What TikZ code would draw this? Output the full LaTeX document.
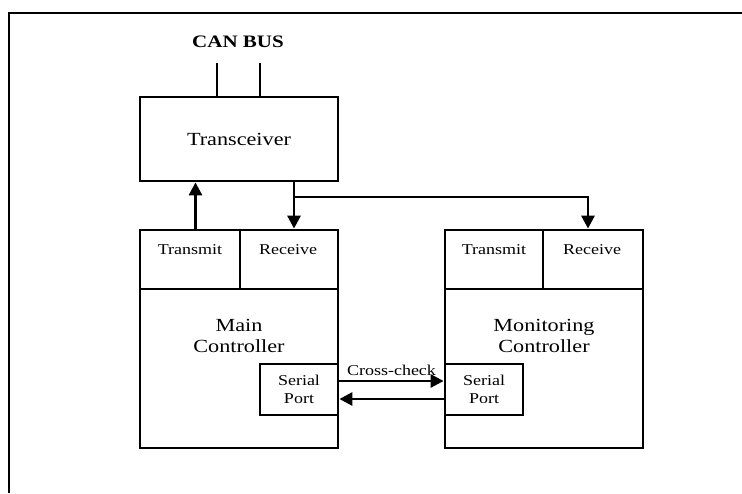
\documentclass[tikz,border=0pt]{standalone}
\usepackage{fontspec}
\setmainfont{Liberation Serif}[FakeStretch=1.2]
\usetikzlibrary{arrows.meta}
\begin{document}
\begin{tikzpicture}[x=1pt,y=-1pt,
  box/.style={draw=black,line width=2.8pt,rectangle,inner sep=0pt,anchor=center},
  big/.style={font=\fontsize{18.5}{21}\selectfont,align=center},
  small/.style={font=\fontsize{15}{18}\selectfont,align=center},
  arr/.style={line width=2.8pt,-{Triangle[length=13pt,width=13pt]}},
  wire/.style={line width=2.8pt}]
\fill[white] (0,0) rectangle (742,493);
\useasboundingbox (0,0) rectangle (742,493);
\draw[line width=2.8pt] (742,13) -- (9,13) -- (9,493);
% CAN bus
\node[font=\fontsize{17.5}{20}\selectfont\bfseries] (can) at (238,42) {CAN BUS};
\node[box,big,minimum width=198pt,minimum height=84pt] (trx) at (239,139) {Transceiver};
\coordinate (canA) at (217,63);
\coordinate (canB) at (260,63);
\draw[wire] (canA) -- (canA |- trx.north);
\draw[wire] (canB) -- (canB |- trx.north);
% main controller
\node[box,minimum width=100pt,minimum height=59pt] (mainTx) at (190,259.5) {};
\node[small] at (190,250) {Transmit};
\node[box,minimum width=98pt,minimum height=59pt] (mainRx) at (289,259.5) {};
\node[small] at (288,250) {Receive};
\node[box,minimum width=198pt,minimum height=159pt] (mainBody) at (239,368.5) {};
\node[big] (mainLbl) at (239,336) {Main\\Controller};
\node[box,small,fill=white,minimum width=78pt,minimum height=51pt] (mainSP) at (299,389.5) {Serial\\Port};
% monitoring controller
\node[box,minimum width=98pt,minimum height=59pt] (monTx) at (494,259.5) {};
\node[small] at (494,250) {Transmit};
\node[box,minimum width=100pt,minimum height=59pt] (monRx) at (593,259.5) {};
\node[small] at (592,250) {Receive};
\node[box,minimum width=198pt,minimum height=159pt] (monBody) at (544,368.5) {};
\node[big] (monLbl) at (544,336) {Monitoring\\Controller};
\node[box,small,fill=white,minimum width=78pt,minimum height=51pt] (monSP) at (484,389.5) {Serial\\Port};
% connectors
\draw[arr] ([xshift=5.5pt]mainTx.north) -- ([xshift=5.5pt]mainTx.north |- trx.south);
\draw[arr] ([xshift=5pt]mainRx.north |- trx.south) -- ([xshift=5pt]mainRx.north);
\coordinate (br) at (294,197);
\draw[arr] (br) -| ([xshift=-5pt]monRx.north);
\draw[arr] ([yshift=8.5pt]mainSP.east) -- ([yshift=8.5pt]mainSP.east -| monSP.west)
  node[midway,above=3pt,small,inner sep=1pt] (cc) {Cross-check};
\draw[arr] ([yshift=-9.5pt]monSP.west) -- ([yshift=-9.5pt]monSP.west -| mainSP.east);
\end{tikzpicture}
\end{document}
